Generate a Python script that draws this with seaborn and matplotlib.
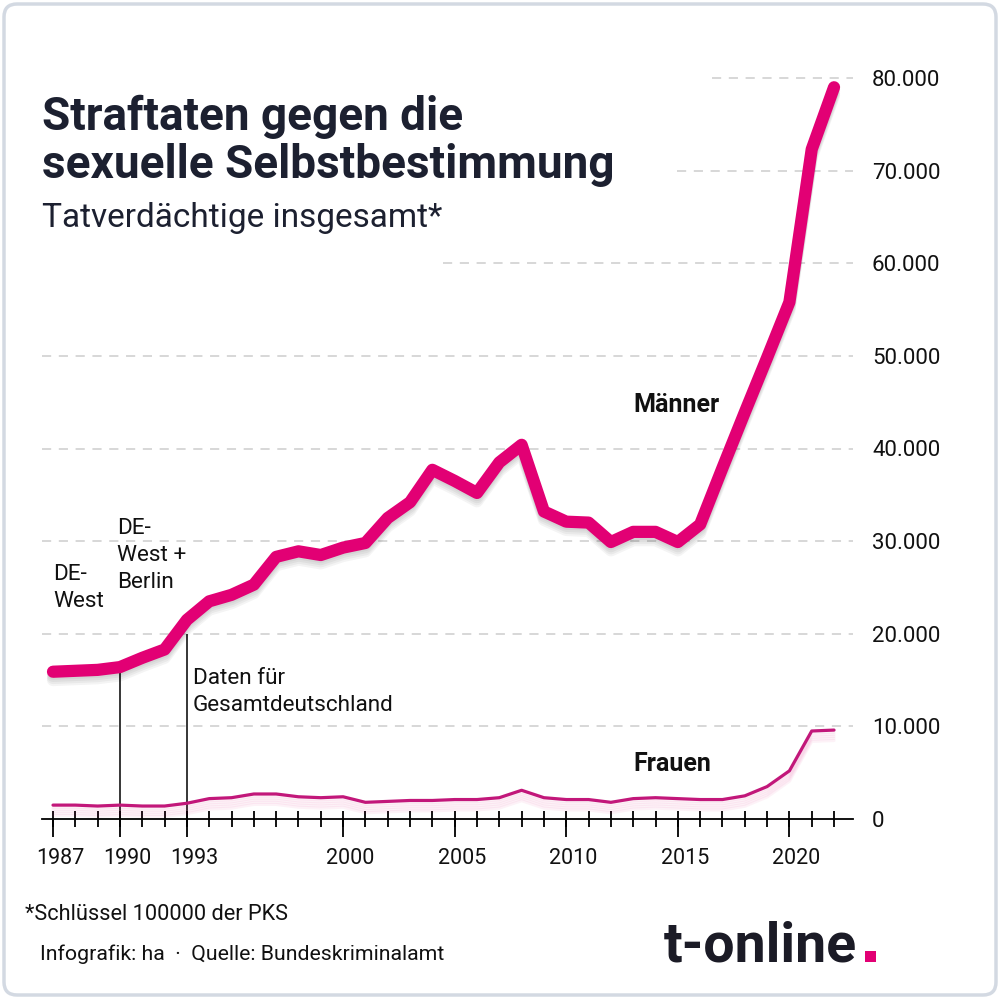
import matplotlib
matplotlib.use("Agg")
import matplotlib.pyplot as plt
import seaborn as sns
import numpy as np
import pandas as pd
from matplotlib import font_manager
from matplotlib import patheffects as pe
from matplotlib.patches import FancyBboxPatch, Rectangle
from matplotlib.transforms import ScaledTranslation
from matplotlib.ticker import FixedLocator, FuncFormatter

# ---------------- data ----------------
years = list(range(1987, 2023))
maenner = [15900, 16000, 16100, 16400, 17400, 18300, 21500, 23500, 24200, 25300,
           28300, 28900, 28500, 29300, 29800, 32500, 34200, 37700, 36500, 35200,
           38500, 40400, 33200, 32100, 32000, 29900, 31000, 31000, 29900, 31800,
           37900, 43900, 49800, 55800, 72300, 79000]
frauen = [1500, 1500, 1400, 1500, 1400, 1400, 1700, 2200, 2300, 2700,
          2700, 2400, 2300, 2400, 1800, 1900, 2000, 2000, 2100, 2100,
          2300, 3100, 2300, 2100, 2100, 1800, 2200, 2300, 2200, 2100,
          2100, 2500, 3500, 5200, 9500, 9600]
major_years = [1987, 1990, 1993, 2000, 2005, 2010, 2015, 2020]
y_ticks = [0, 10000, 20000, 30000, 40000, 50000, 60000, 70000, 80000]

title_lines = ["Straftaten gegen die", "sexuelle Selbstbestimmung"]
subtitle = "Tatverdächtige insgesamt*"
footnote = "*Schlüssel 100000 der PKS"
source = "Infografik: ha  ·  Quelle: Bundeskriminalamt"

df = pd.DataFrame({"Jahr": years, "Männer": maenner, "Frauen": frauen})

sns.set_style("white")
plt.rcParams["font.family"] = ["Roboto", "DejaVu Sans"]

W, H = 1000, 999
fig = plt.figure(figsize=(10, 9.99), dpi=100)
fig.patch.set_facecolor("white")


def fx(px):
    return px / W


def fy(py):
    return 1 - py / H


ax = fig.add_axes([fx(42), (H - 819) / H, 811 / W, 85 * 9.2625 / H])
ax.set_facecolor("none")
ax.set_xlim(1986.507, 2022.85)
ax.set_ylim(0, 85000)

MAGENTA = "#E20074"
FRAU = "#C2177A"
DARK = "#1c2030"
TXT = "#111111"

shadow_big = [pe.SimpleLineShadow(offset=(0, -o), shadow_color="black", alpha=0.045)
              for o in (1.5, 3, 4.5, 6)] + [pe.Normal()]
shadow_small = [pe.SimpleLineShadow(offset=(0, -o), shadow_color="#E20074", alpha=0.05)
                for o in (1.5, 3, 4.5, 6, 7.5)] + [pe.Normal()]

sns.lineplot(data=df, x="Jahr", y="Frauen", ax=ax, color=FRAU, linewidth=2.3,
             solid_joinstyle="round", zorder=4, path_effects=shadow_small)
sns.lineplot(data=df, x="Jahr", y="Männer", ax=ax, color=MAGENTA, linewidth=8.8,
             solid_capstyle="round", solid_joinstyle="round", zorder=5,
             path_effects=shadow_big)

# gridlines (dashed, partly starting right of title)
grid_start = {10000: 0, 20000: 0, 30000: 0, 40000: 0, 50000: 0,
              60000: 0.494, 70000: 0.783, 80000: 0.826}
for v, s in grid_start.items():
    ax.axhline(v, xmin=s, xmax=1, color="#cdcdcd", lw=1.1, dashes=(6, 5), zorder=1)

# reference lines
ax.vlines(1990, 0, df.loc[df.Jahr == 1990, "Männer"].iloc[0], color="black", lw=1.1, zorder=3)
ax.vlines(1993, 0, 20000, color="black", lw=1.1, zorder=3)

for s in ["top", "left", "right"]:
    ax.spines[s].set_visible(False)
ax.spines["bottom"].set_color("black")
ax.spines["bottom"].set_linewidth(1.3)
ax.spines["bottom"].set_zorder(6)

ax.set_xlabel("")
ax.set_ylabel("")
ax.xaxis.set_major_locator(FixedLocator(major_years))
ax.xaxis.set_minor_locator(FixedLocator(years))
ax.xaxis.remove_overlapping_locs = False
ax.tick_params(axis="x", which="both", bottom=True, top=False)
ax.tick_params(axis="x", which="minor", direction="inout", length=16 / 1.389,
               width=1.3, color="black")
ax.tick_params(axis="x", which="major", direction="out", length=18 / 1.389,
               width=1.3, color="black", labelsize=15.5, pad=8,
               labelcolor=TXT, labelfontfamily="Roboto")
for lab in ax.xaxis.get_majorticklabels():
    lab.set_transform(lab.get_transform() + ScaledTranslation(7 / 100, 0, fig.dpi_scale_trans))

ax.yaxis.tick_right()
ax.yaxis.set_major_locator(FixedLocator(y_ticks))
ax.yaxis.set_major_formatter(FuncFormatter(lambda v, p: f"{int(v):,}".replace(",", ".")))
ax.tick_params(axis="y", length=0, pad=19 / 1.389, labelsize=16, labelcolor=TXT,
               labelfontfamily="Roboto")
ax.grid(False)

# ---------------- texts ----------------
fig.text(fx(42), fy(130), title_lines[0], fontsize=33, fontweight="bold", color=DARK,
         va="baseline", family="Roboto")
fig.text(fx(42), fy(178), title_lines[1], fontsize=33, fontweight="bold", color=DARK,
         va="baseline", family="Roboto")
fig.text(fx(42), fy(227), subtitle, fontsize=24, color=DARK, va="baseline", family="Roboto")

ann = dict(fontsize=16.2, color=TXT, family="Roboto", va="baseline", linespacing=1.36)
fig.text(fx(53), fy(607), "DE-\nWest", **ann)
fig.text(fx(117), fy(588), "DE-\nWest +\nBerlin", **ann)
fig.text(fx(193), fy(711), "Daten für\nGesamtdeutschland", **ann)

lab = dict(fontsize=18, color=TXT, family="Roboto", fontweight="bold", va="baseline")
fig.text(fx(633), fy(412), "Männer", **lab)
fig.text(fx(633), fy(771), "Frauen", **lab)

fig.text(fx(25), fy(920), footnote, fontsize=15.7, color=TXT, family="Roboto",
         va="baseline")
fig.text(fx(40), fy(960), source, fontsize=15.3, color=TXT, family="Roboto",
         va="baseline")

# logo
fig.text(fx(664), fy(962), "t-online", fontsize=40, fontweight="bold", color="#1b1b26",
         va="baseline", family="Roboto")
fig.add_artist(Rectangle((fx(865), fy(962)), 11 / W, 11 / H, transform=fig.transFigure,
                         facecolor=MAGENTA, edgecolor="none"))

# rounded border
fig.add_artist(FancyBboxPatch((fx(4), fy(995)), 992 / W, 991 / H,
                              boxstyle="round,pad=0,rounding_size=0.013",
                              transform=fig.transFigure, fill=False,
                              edgecolor="#d3d9e2", linewidth=2.5))

fig.savefig("out.png", dpi=100, facecolor="white")
